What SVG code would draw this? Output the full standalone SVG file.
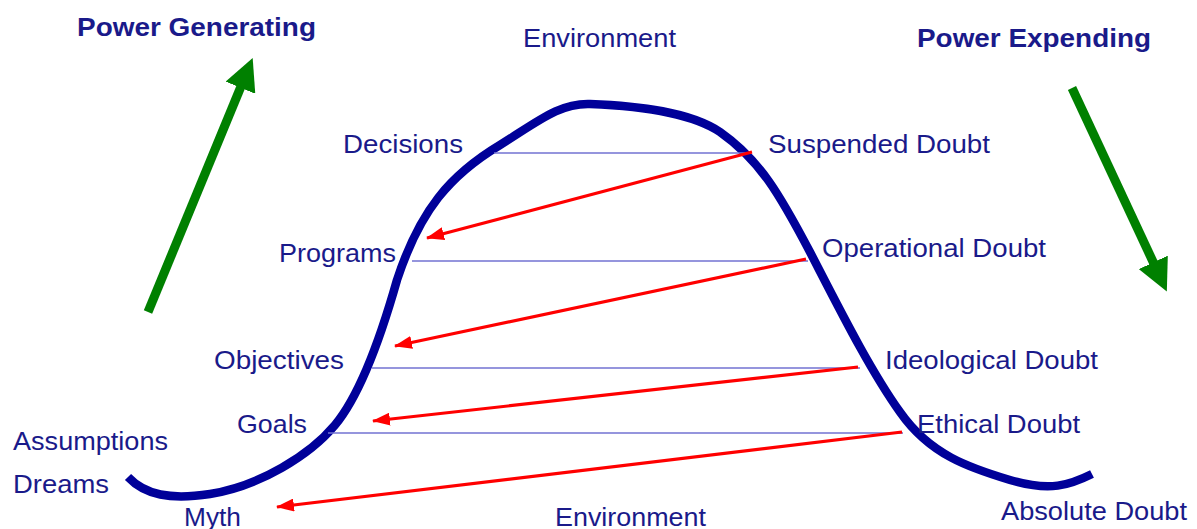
<svg xmlns="http://www.w3.org/2000/svg" width="1197" height="529" viewBox="0 0 1197 529">
  <style>
    .lbl { font-family: "Liberation Sans", Arial, sans-serif; font-size: 25px; fill: #1a1a8a; }
    .title { font-weight: bold; font-size: 25px; }
    .level { stroke: #7272d2; stroke-width: 1.6; fill: none; }
    .doubt { stroke: #ff0000; stroke-width: 3.2; fill: none; marker-end: url(#redHead); }
    .power { stroke: #008000; stroke-width: 9; fill: none; }
    .curve { stroke: #000099; stroke-width: 8.5; fill: none; stroke-linecap: butt; stroke-linejoin: round; }
  </style>
  <defs>
    <marker id="redHead" markerUnits="userSpaceOnUse" markerWidth="18" markerHeight="13" refX="17" refY="6.5" orient="auto">
      <path d="M0,0 L18,6.5 L0,13 z" fill="#ff0000"/>
    </marker>
    <marker id="greenHead" markerUnits="userSpaceOnUse" markerWidth="32" markerHeight="32" refX="4" refY="16" orient="auto">
      <path d="M0,0 L32,16 L0,32 z" fill="#008000"/>
    </marker>
  </defs>

  <rect width="1197" height="529" fill="#ffffff"/>

  <!-- power cycle curve -->
  <g id="cycle-curve">
    <path class="curve" d="M128,477 C145,495 170,500 210,494 C260,486 310,455 335,425 C360,395 380,340 397,280 C420,210 450,175 500,145 C540,120 560,103 590,104 C640,106 690,112 720,132 C760,160 780,195 810,252 C840,310 870,370 900,412 C930,455 970,468 1010,480 C1050,492 1070,485 1092,474"/>
  </g>

  <!-- connectors -->
  <g id="connectors">
    <line class="level" x1="494" y1="153" x2="750" y2="153"/>
    <line class="level" x1="412" y1="261" x2="808" y2="261"/>
    <line class="level" x1="372" y1="368" x2="860" y2="368"/>
    <line class="level" x1="328" y1="433" x2="903" y2="433"/>

    <line class="doubt" x1="752" y1="152" x2="427" y2="238"/>
    <line class="doubt" x1="806" y1="259" x2="395" y2="346"/>
    <line class="doubt" x1="858" y1="367" x2="373" y2="421"/>
    <line class="doubt" x1="902" y1="432" x2="277" y2="507"/>

    <line class="power" x1="148" y1="312" x2="242" y2="84" marker-end="url(#greenHead)"/>
    <line class="power" x1="1072" y1="88" x2="1155" y2="266" marker-end="url(#greenHead)"/>
  </g>

  <g id="power-generating"><text class="lbl title" x="77" y="36" textLength="239" lengthAdjust="spacingAndGlyphs">Power Generating</text></g>
  <g id="environment-top"><text class="lbl" x="523" y="47" textLength="153" lengthAdjust="spacingAndGlyphs">Environment</text></g>
  <g id="power-expending"><text class="lbl title" x="917" y="47" textLength="234" lengthAdjust="spacingAndGlyphs">Power Expending</text></g>

  <g id="decisions"><text class="lbl" x="343" y="153" textLength="120" lengthAdjust="spacingAndGlyphs">Decisions</text></g>
  <g id="programs"><text class="lbl" x="279" y="262" textLength="117" lengthAdjust="spacingAndGlyphs">Programs</text></g>
  <g id="objectives"><text class="lbl" x="214" y="369" textLength="130" lengthAdjust="spacingAndGlyphs">Objectives</text></g>
  <g id="goals"><text class="lbl" x="237" y="433" textLength="70" lengthAdjust="spacingAndGlyphs">Goals</text></g>
  <g id="assumptions"><text class="lbl" x="13" y="450" textLength="155" lengthAdjust="spacingAndGlyphs">Assumptions</text></g>
  <g id="dreams"><text class="lbl" x="13" y="493" textLength="96" lengthAdjust="spacingAndGlyphs">Dreams</text></g>
  <g id="myth"><text class="lbl" x="184" y="526" textLength="57" lengthAdjust="spacingAndGlyphs">Myth</text></g>
  <g id="environment-bottom"><text class="lbl" x="555" y="526" textLength="151" lengthAdjust="spacingAndGlyphs">Environment</text></g>

  <g id="suspended-doubt"><text class="lbl" x="768" y="153" textLength="222" lengthAdjust="spacingAndGlyphs">Suspended Doubt</text></g>
  <g id="operational-doubt"><text class="lbl" x="822" y="257" textLength="224" lengthAdjust="spacingAndGlyphs">Operational Doubt</text></g>
  <g id="ideological-doubt"><text class="lbl" x="885" y="369" textLength="213" lengthAdjust="spacingAndGlyphs">Ideological Doubt</text></g>
  <g id="ethical-doubt"><text class="lbl" x="917" y="433" textLength="163" lengthAdjust="spacingAndGlyphs">Ethical Doubt</text></g>
  <g id="absolute-doubt"><text class="lbl" x="1001" y="520" textLength="186" lengthAdjust="spacingAndGlyphs">Absolute Doubt</text></g>
</svg>
